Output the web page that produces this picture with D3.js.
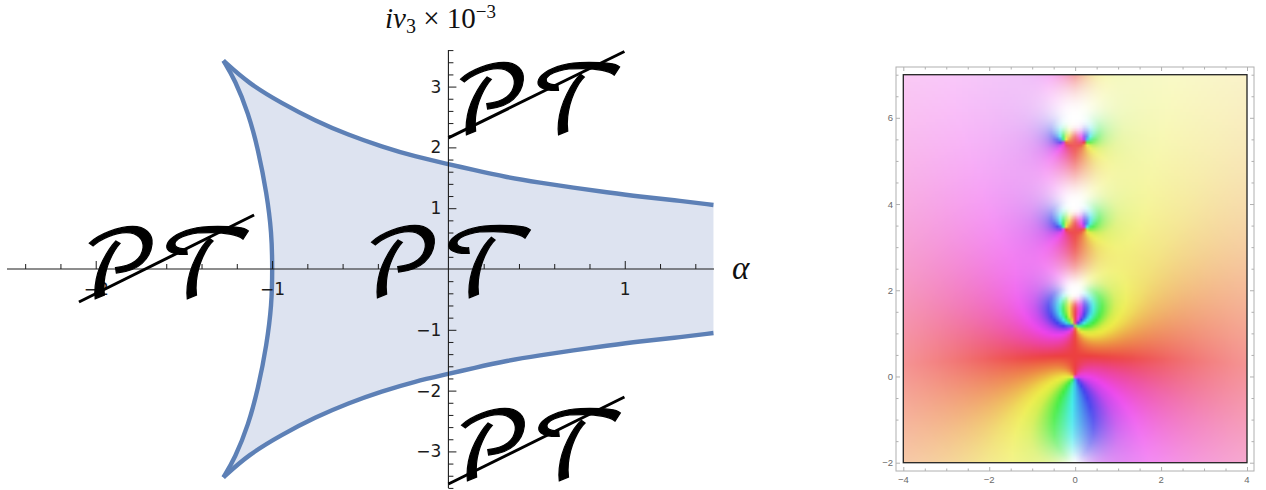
<!DOCTYPE html>
<html><head><meta charset="utf-8"><style>
html,body{margin:0;padding:0;background:#fff}
svg{display:block}
</style></head><body><svg id="chart" width="1266" height="490"></svg>
<script src="https://cdn.jsdelivr.net/npm/d3@7"></script>
<script>
// ---- left panel, values ----
const upperAlpha=[-1.276,-1.134,-0.945,-0.756,-0.567,-0.378,-0.189,0,0.142,0.331,0.519,0.709,0.898,1.086,1.275,1.503];
const upperV=[3.426,3.054,2.725,2.439,2.204,2.012,1.847,1.727,1.628,1.508,1.419,1.337,1.262,1.189,1.135,1.053];
const lowerAlpha=[-1.276,-1.134,-0.945,-0.756,-0.567,-0.378,-0.189,0,0.142,0.331,0.519,0.709,0.898,1.086,1.275,1.503];
const lowerV=[-3.426,-3.054,-2.725,-2.439,-2.204,-2.012,-1.847,-1.727,-1.628,-1.508,-1.419,-1.337,-1.262,-1.189,-1.135,-1.053];
const edgeAlpha=[-1.276,-1.21,-1.134,-1.078,-1.03,-1.002,-0.998,-1.002,-1.03,-1.078,-1.134,-1.21,-1.276];
const edgeV=[3.426,3.109,2.561,1.957,1.237,0.592,0,-0.592,-1.237,-1.957,-2.561,-3.109,-3.426];
const xMajor=[-2,-1,1];
const xMinor=[-2.4,-2.2,-1.8,-1.6,-1.4,-1.2,-0.8,-0.6,-0.4,-0.2,0.2,0.4,0.6,0.8,1.2,1.4];
const yMajor=[-3,-2,-1,1,2,3];
const yMinor=[-3.6,-3.4,-3.2,-2.8,-2.6,-2.4,-2.2,-1.8,-1.6,-1.4,-1.2,-0.8,-0.6,-0.4,-0.2,0.2,0.4,0.6,0.8,1.2,1.4,1.6,1.8,2.2,2.4,2.6,2.8,3.2,3.4,3.6];
const stampAlpha=[-0.005,-2.11,-0.51,0];
const stampV=[2.24,-0.46,-0.44,-3.45];
const slashFrom=[[0,2.155],[-2.095,-0.543],[0,-3.536]];
const slashTo=[[0.998,3.577],[-1.102,0.888],[0.998,-2.105]];
// ---- right panel: where the phase plot winds ----
const zeroRe=[0,0,-0.25,0.25,-0.25,0.25,-0.25,0.25,-0.25,0.25,-0.25,0.25,-0.25,0.25,0];
const zeroIm=[0,1.2,3.45,3.45,5.45,5.45,7.45,7.45,9.45,9.45,11.45,11.45,13.45,13.45,-3];
const zeroOrder=[1,2,1,1,1,1,1,1,1,1,1,1,1,1,1];
const poleRe=[0,0,0,0,0,0,0,0,0];
const poleIm=[-2,2,4,6,8,10,12,14,-6];
const poleOrder=[1,2,2,2,2,2,2,2,1];
const fieldXTicks=[-4,-2,0,2,4];
const fieldYTicks=[-2,0,2,4,6];
const fieldXMinor=d3.range(-4,4.01,0.5).filter(v=>v%2!==0);
const fieldYMinor=d3.range(-2,7.01,0.5).filter(v=>v%2!==0);

const svg=d3.select('#chart');
const x=d3.scaleLinear([-2.503,1.506],[7,714]);
const y=d3.scaleLinear([-3.6,3.6],[487.9,50.1]);
const ink='#1c1c1c', blue='#5d80b6';
const pairs=(a,b)=>a.map((d,i)=>[d,b[i]]);
const line=d3.line().x(d=>x(d[0])).y(d=>y(d[1])).curve(d3.curveBasis);
const upper=line(pairs(upperAlpha,upperV));
const edge=line(pairs(edgeAlpha,edgeV));
const lower=line(pairs(lowerAlpha,lowerV));
const upperRev=line(pairs(upperAlpha,upperV).reverse());
svg.append('path').attr('d',upperRev+edge.replace('M','L')+lower.replace('M','L')+'Z').attr('fill','#dde3f0');
[upper,edge,lower].forEach(d=>svg.append('path').attr('d',d).attr('fill','none').attr('stroke',blue).attr('stroke-width',4.4));

const gx=svg.append('g').attr('transform',`translate(0,${y(0)})`);
const gy=svg.append('g').attr('transform',`translate(${x(0)},0)`);
const minus=v=>String(v).replace('-','\u2212');
gx.call(d3.axisTop(x).tickValues(xMajor).tickSize(8).tickFormat(minus))
  .call(g=>g.select('.domain').remove())
  .call(g=>g.selectAll('text').attr('y',26).attr('dy',0).attr('font-size',17).attr('font-family','DejaVu Sans').attr('fill',ink))
  .call(g=>g.selectAll('line').attr('stroke',ink));
gx.append('g').call(d3.axisTop(x).tickValues(xMinor).tickSize(5).tickFormat(''))
  .call(g=>g.select('.domain').remove()).call(g=>g.selectAll('line').attr('stroke',ink));
gx.append('line').attr('x1',x.range()[0]).attr('x2',x.range()[1]).attr('stroke',ink).attr('stroke-width',1.1);
gy.call(d3.axisRight(y).tickValues(yMajor).tickSize(8).tickFormat(minus))
  .call(g=>g.select('.domain').remove())
  .call(g=>g.selectAll('text').attr('x',-7).attr('text-anchor','end').attr('font-size',17).attr('font-family','DejaVu Sans').attr('fill',ink))
  .call(g=>g.selectAll('line').attr('stroke',ink));
gy.append('g').call(d3.axisRight(y).tickValues(yMinor).tickSize(5).tickFormat(''))
  .call(g=>g.select('.domain').remove()).call(g=>g.selectAll('line').attr('stroke',ink));
gy.append('line').attr('y1',y.range()[0]).attr('y2',y.range()[1]).attr('stroke',ink).attr('stroke-width',1.1);

const serif='"Liberation Serif",serif';
const title=svg.append('text').attr('x',385).attr('y',28).attr('font-family',serif).attr('font-size',29).attr('fill','#111');
title.append('tspan').attr('font-style','italic').text('iv');
title.append('tspan').attr('font-size',20).attr('dy',5).text('3');
title.append('tspan').attr('dy',-5).text(' \u00d7 10');
title.append('tspan').attr('font-size',19).attr('dy',-10).text('\u22123');
svg.append('text').attr('x',732).attr('y',279).attr('font-family',serif).attr('font-style','italic').attr('font-size',33).attr('fill','#111').text('\u03b1');

stampAlpha.forEach((a,i)=>{
  svg.append('text').attr('transform',`translate(${x(a)},${y(stampV[i])}) skewX(-6)`)
    .attr('font-family','"DejaVu Math TeX Gyre"').attr('font-size',92).attr('fill','#000')
    .attr('stroke','#000').attr('stroke-width',1.2).text('\u{1D4AB}\u{1D4AF}');
});
slashFrom.forEach((f,i)=>svg.append('line').attr('x1',x(f[0])).attr('y1',y(f[1])).attr('x2',x(slashTo[i][0])).attr('y2',y(slashTo[i][1])).attr('stroke','#000').attr('stroke-width',3));

// ---- right panel ----
const fx=d3.scaleLinear([-4,4],[903.3,1247]);
const fy=d3.scaleLinear([-2,7],[462.7,74.7]);
const step=3;
const W=Math.round((fx(4)-fx(-4))/step), H=Math.round((fy(-2)-fy(7))/step);
const cv=document.createElement('canvas');cv.width=W;cv.height=H;
const ctx=cv.getContext('2d');const im=ctx.createImageData(W,H);
const hueStops=d3.scaleLinear([-180,-90,-60,-30,0,30,60,90,180],[190,285,305,330,360,385,412,430,550]);
for(let j=0;j<H;j++)for(let i=0;i<W;i++){
  const zx=fx.invert(fx(-4)+(i+.5)*step), zy=fy.invert(fy(7)+(j+.5)*step);
  let arg=0,lg=0;
  zeroRe.forEach((r,k)=>{const dx=zx-r,dy=zy-zeroIm[k];arg+=zeroOrder[k]*Math.atan2(dy,dx);lg+=zeroOrder[k]*Math.log(Math.hypot(dx,dy)+1e-6);});
  poleRe.forEach((r,k)=>{const dx=zx-r,dy=zy-poleIm[k];arg-=poleOrder[k]*Math.atan2(dy,dx);lg-=poleOrder[k]*Math.log(Math.hypot(dx,dy)+1e-6);});
  let deg=arg*180/Math.PI;deg=((deg+180)%360+360)%360-180;
  const h=hueStops(deg);
  const m=Math.exp(lg);
  const sat=0.92/(1+Math.pow(m/0.33,1.5));
  const c=d3.rgb(d3.hsl(h%360,0.82,0.55));
  const p=(j*W+i)*4;
  im.data[p]=255+(c.r-255)*sat;im.data[p+1]=255+(c.g-255)*sat;im.data[p+2]=255+(c.b-255)*sat;im.data[p+3]=255;
}
ctx.putImageData(im,0,0);
svg.append('image').attr('href',cv.toDataURL()).attr('x',fx(-4)).attr('y',fy(7)).attr('width',fx(4)-fx(-4)).attr('height',fy(-2)-fy(7)).attr('preserveAspectRatio','none');
svg.append('rect').attr('x',fx(-4)).attr('y',fy(7)).attr('width',fx(4)-fx(-4)).attr('height',fy(-2)-fy(7)).attr('fill','none').attr('stroke','#222').attr('stroke-width',1.3);
const fL=896,fR=1254,fT=67,fB=471,gray='#b0b0b0';
svg.append('rect').attr('x',fL).attr('y',fT).attr('width',fR-fL).attr('height',fB-fT).attr('fill','none').attr('stroke',gray);
const sides=[[d3.axisTop(fx),0,fB,fieldXTicks,fieldXMinor],[d3.axisBottom(fx),0,fT,fieldXTicks,fieldXMinor],[d3.axisRight(fy),fL,0,fieldYTicks,fieldYMinor],[d3.axisLeft(fy),fR,0,fieldYTicks,fieldYMinor]];
sides.forEach(([ax,tx,ty,maj,min])=>{
  [[maj,4],[min,2.5]].forEach(([vals,len])=>{
    const g=svg.append('g').attr('transform',`translate(${tx},${ty})`).call(ax.tickValues(vals).tickSize(len).tickFormat(''));
    g.select('.domain').remove();g.selectAll('line').attr('stroke',gray);
  });
});
const labelFont='"Liberation Sans",sans-serif',labelFill='#6a6a6a';
svg.append('g').selectAll('text').data(fieldXTicks).join('text').attr('x',d=>fx(d)).attr('y',483).attr('text-anchor','middle').attr('font-family',labelFont).attr('font-size',9.5).attr('fill',labelFill).text(minus);
svg.append('g').selectAll('text').data(fieldYTicks).join('text').attr('x',893).attr('y',d=>fy(d)+3.5).attr('text-anchor','end').attr('font-family',labelFont).attr('font-size',9.5).attr('fill',labelFill).text(minus);
</script></body></html>
